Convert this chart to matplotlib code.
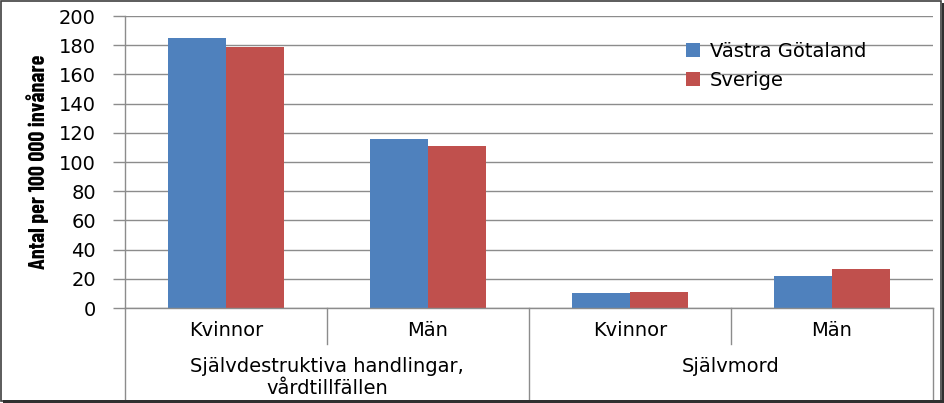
import matplotlib
matplotlib.use("Agg")
import matplotlib.pyplot as plt
import numpy as np
from matplotlib.patches import Rectangle
from matplotlib.lines import Line2D

# Data
subcategories = ["Kvinnor", "Män", "Kvinnor", "Män"]
groups = ["Självdestruktiva handlingar,\nvårdtillfällen", "Självmord"]
series_names = ["Västra Götaland", "Sverige"]
vastra_gotaland = [185, 115.5, 10.5, 22]
sverige = [179, 111, 11, 26.5]
yticks = [0, 20, 40, 60, 80, 100, 120, 140, 160, 180, 200]

blue = "#4F81BD"
red = "#C0504D"
grid_col = "#8C8C8C"
FS = 14

W, H = 945, 403
fig = plt.figure(figsize=(W / 100, H / 100), dpi=100)
left, right = 125 / W, 933 / W
bottom, top = 1 - 308 / H, 1 - 16 / H
ax = fig.add_axes([left, bottom, right - left, top - bottom])

x = np.arange(len(subcategories))
bw = 1 / 3.5
ax.bar(x - bw / 2, vastra_gotaland, width=bw, color=blue, label=series_names[0], zorder=3)
ax.bar(x + bw / 2, sverige, width=bw, color=red, label=series_names[1], zorder=3)

ax.set_xlim(-0.5, len(subcategories) - 0.5)
ax.set_ylim(0, 200)
ax.set_yticks(yticks)
ax.set_yticklabels([str(v) for v in yticks], fontsize=FS, family="DejaVu Sans")
ax.tick_params(axis="y", length=9, width=1, color=grid_col, pad=12)
ax.set_xticks([])
ax.yaxis.grid(True, color=grid_col, linewidth=1, zorder=0)
for s in ["top", "right", "bottom"]:
    ax.spines[s].set_visible(False)
ax.spines["left"].set_color(grid_col)
ax.spines["left"].set_linewidth(1)
ax.axhline(0, color=grid_col, linewidth=1, zorder=4, clip_on=False)

ax.set_ylabel("Antal per 100 000 invånare", fontsize=16, fontweight="bold",
              family=["Barlow Condensed", "DejaVu Sans"], labelpad=7)

# Two-level category axis
trans = ax.get_xaxis_transform()
def fy(py):
    # convert pixel y (from top of figure) to axes fraction
    return ((1 - py / H) - bottom) / (top - bottom)

for i, lab in enumerate(subcategories):
    ax.text(i, fy(330), lab, transform=trans, ha="center", va="center", fontsize=FS,
            family="DejaVu Sans", clip_on=False)
ax.text(0.5, fy(378), groups[0], transform=trans, ha="center", va="center", fontsize=FS,
        family="DejaVu Sans", linespacing=1.2, clip_on=False)
ax.text(2.5, fy(367), groups[1], transform=trans, ha="center", va="center", fontsize=FS,
        family="DejaVu Sans", clip_on=False)

for xv, long in [(-0.5, True), (0.5, False), (1.5, True), (2.5, False), (3.5, True)]:
    y_end = fy(401) if long else fy(344)
    ax.add_line(Line2D([xv, xv], [0, y_end], transform=trans, color=grid_col,
                       linewidth=1, clip_on=False))

leg = ax.legend(loc="upper left", bbox_to_anchor=((678 / W - left) / (right - left), fy(34)),
                frameon=False, handlelength=0.75, handleheight=0.75,
                handletextpad=0.5, labelspacing=0.5, borderaxespad=0,
                prop={"family": "DejaVu Sans", "size": FS})

# Figure border with shadow
fig.patches.append(Rectangle((0.5 / W, 2.5 / H), (W - 4) / W, (H - 3.5) / H, transform=fig.transFigure,
                             fill=False, edgecolor="#404040", linewidth=1.2))
fig.patches.append(Rectangle(((W - 3) / W, 0), 3 / W, (H - 3) / H, transform=fig.transFigure,
                             facecolor="#303030", edgecolor="none"))
fig.patches.append(Rectangle((3 / W, 0), (W - 3) / W, 3 / H, transform=fig.transFigure,
                             facecolor="#303030", edgecolor="none"))

fig.savefig("out.png", dpi=100)
